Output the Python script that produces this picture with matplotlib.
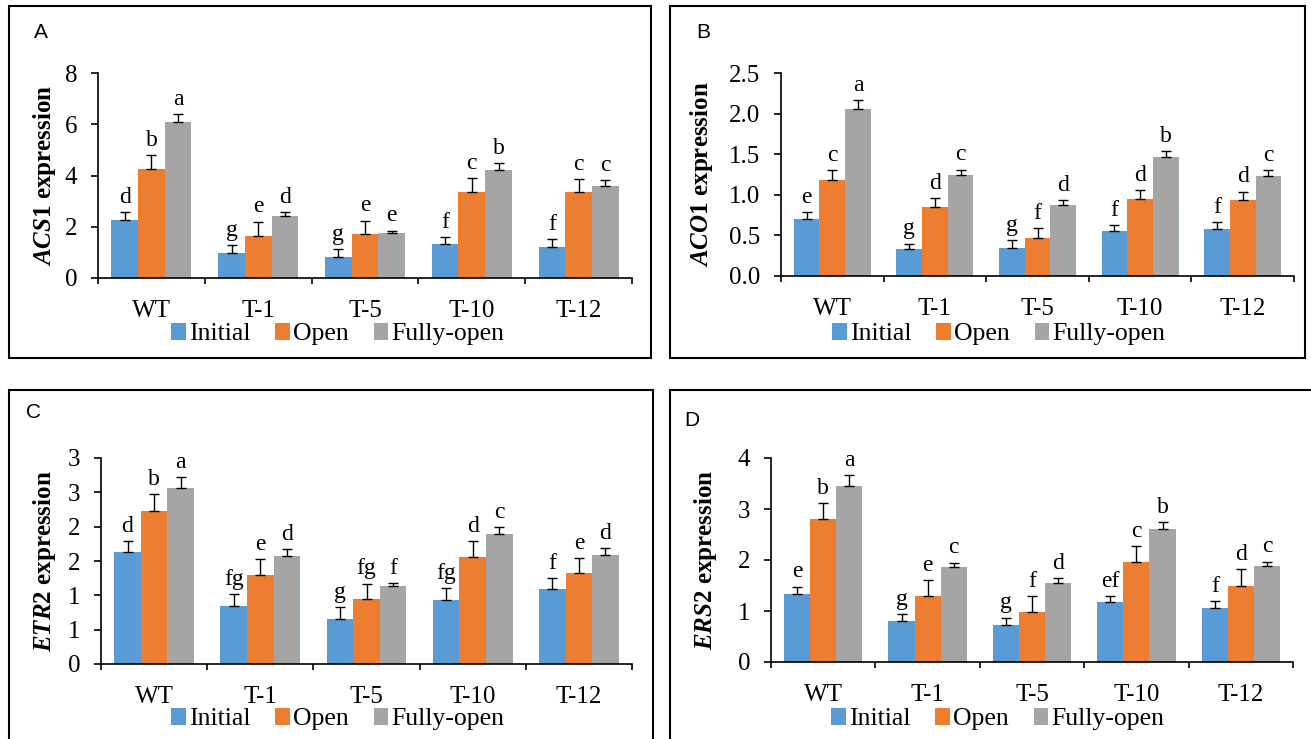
import numpy as np
import matplotlib.pyplot as plt
from matplotlib.patches import Rectangle, Patch
from matplotlib.ticker import FuncFormatter, MultipleLocator

W, H = 1311, 739

lines = ["WT", "T-1", "T-5", "T-10", "T-12"]
stages = ["Initial", "Open", "Fully-open"]
colors = ["#5B9BD5", "#ED7D31", "#A5A5A5"]

# ── ACS1 (panel A) ──────────────────────
acs1_initial = [2.27, 0.97, 0.82, 1.34, 1.22]
acs1_open = [4.25, 1.62, 1.71, 3.35, 3.35]
acs1_full = [6.10, 2.43, 1.75, 4.22, 3.59]
acs1_initial_err = [0.30, 0.30, 0.31, 0.26, 0.31]
acs1_open_err = [0.55, 0.58, 0.53, 0.56, 0.52]
acs1_full_err = [0.30, 0.14, 0.10, 0.25, 0.24]
acs1_letters = [["d", "g", "g", "f", "f"],
                ["b", "e", "e", "c", "c"],
                ["a", "d", "e", "b", "c"]]

# ── ACO1 (panel B) ──────────────────────
aco1_initial = [0.70, 0.33, 0.34, 0.555, 0.575]
aco1_open = [1.18, 0.85, 0.47, 0.95, 0.93]
aco1_full = [2.06, 1.24, 0.88, 1.46, 1.23]
aco1_initial_err = [0.09, 0.07, 0.10, 0.075, 0.085]
aco1_open_err = [0.12, 0.11, 0.12, 0.11, 0.11]
aco1_full_err = [0.11, 0.07, 0.05, 0.08, 0.07]
aco1_letters = [["e", "g", "g", "f", "f"],
                ["c", "d", "f", "d", "d"],
                ["a", "c", "d", "b", "c"]]

# ── ETR2 (panel C) ──────────────────────
etr2_initial = [1.63, 0.85, 0.66, 0.93, 1.09]
etr2_open = [2.23, 1.29, 0.95, 1.56, 1.32]
etr2_full = [2.57, 1.58, 1.13, 1.89, 1.59]
etr2_initial_err = [0.16, 0.17, 0.17, 0.18, 0.16]
etr2_open_err = [0.24, 0.24, 0.22, 0.23, 0.22]
etr2_full_err = [0.15, 0.09, 0.05, 0.11, 0.10]
etr2_letters = [["d", "fg", "g", "fg", "f"],
                ["b", "e", "fg", "d", "e"],
                ["a", "d", "f", "c", "d"]]

# ── ERS2 (panel D) ──────────────────────
ers2_initial = [1.34, 0.81, 0.73, 1.18, 1.06]
ers2_open = [2.80, 1.29, 0.98, 1.96, 1.50]
ers2_full = [3.46, 1.86, 1.54, 2.61, 1.88]
ers2_initial_err = [0.14, 0.13, 0.14, 0.12, 0.13]
ers2_open_err = [0.31, 0.32, 0.32, 0.32, 0.32]
ers2_full_err = [0.20, 0.09, 0.10, 0.14, 0.09]
ers2_letters = [["e", "g", "g", "ef", "f"],
                ["b", "e", "f", "c", "d"],
                ["a", "c", "d", "b", "c"]]

plt.rcParams["font.family"] = "Liberation Serif"
plt.rcParams["mathtext.fontset"] = "custom"
plt.rcParams["mathtext.it"] = "Liberation Serif:italic:bold"
plt.rcParams["mathtext.rm"] = "Liberation Serif:bold"


def px_axes(fig, left, top, right, bottom):
    return fig.add_axes([left / W, 1 - bottom / H, (right - left) / W, (bottom - top) / H])


def draw_panel(fig, box, axbox, tag, tag_xy, gene, means, errs, letters,
               ymax, ystep, fmt, ylab_x, leg_xy):
    # panel frame
    x0, y0, x1, y1 = box
    fig.patches.append(Rectangle((x0 / W, 1 - y1 / H), (x1 - x0) / W, (y1 - y0) / H,
                                 transform=fig.transFigure, fill=False,
                                 edgecolor="black", lw=1.5))
    fig.text(tag_xy[0] / W, 1 - tag_xy[1] / H, tag, family="Liberation Sans",
             fontsize=15, ha="left", va="center")

    ax = px_axes(fig, *axbox)
    x = np.arange(len(lines))
    bw = 0.25
    for i, (m, e, col) in enumerate(zip(means, errs, colors)):
        xs = x + (i - 1) * bw
        ax.bar(xs, m, width=bw, color=col, edgecolor="none", zorder=2)
        ax.errorbar(xs, m, yerr=[np.zeros(len(m)), e], fmt="none", ecolor="black",
                    elinewidth=1.0, capsize=3.5, capthick=1.0, zorder=3)
        for xi, mi, ei, lt in zip(xs, m, e, letters[i]):
            ax.annotate(lt, (xi, mi + ei), xytext=(0, 3), textcoords="offset points",
                        ha="center", va="bottom", fontsize=17, annotation_clip=False)

    ax.set_xlim(-0.5, len(lines) - 0.5)
    ax.set_ylim(0, ymax)
    ax.yaxis.set_major_locator(MultipleLocator(ystep))
    ax.yaxis.set_major_formatter(FuncFormatter(fmt))
    ax.set_xticks(x)
    ax.set_xticklabels(lines)
    ax.set_xticks(np.arange(-0.5, len(lines)), minor=True)
    ax.tick_params(axis="x", which="major", length=0, pad=16, labelsize=18)
    ax.tick_params(axis="x", which="minor", length=4.5, width=1.2, direction="out")
    ax.tick_params(axis="y", length=5, width=1.2, direction="out", pad=10, labelsize=18)
    for s in ["top", "right"]:
        ax.spines[s].set_visible(False)
    for s in ["left", "bottom"]:
        ax.spines[s].set_linewidth(1.2)
    ax.set_ylabel(r"$\mathit{" + gene + "}$ expression", fontsize=18, fontweight="bold")
    ax.yaxis.set_label_coords(ylab_x, 0.5)
    ax.yaxis.label.set_verticalalignment("center")

    handles = [Patch(facecolor=c, edgecolor="none") for c in colors]
    fig.legend(handles, stages, loc="center", bbox_to_anchor=(leg_xy[0] / W, 1 - leg_xy[1] / H),
               ncol=3, frameon=False, fontsize=18.5, handlelength=0.55, handleheight=0.7,
               handletextpad=0.15, columnspacing=0.95, borderpad=0)
    return ax


fig = plt.figure(figsize=(W / 100, H / 100), dpi=100)

draw_panel(fig, (9, 6, 651, 358), (98, 73, 632, 278), "A", (34, 32), "ACS1",
           [acs1_initial, acs1_open, acs1_full],
           [acs1_initial_err, acs1_open_err, acs1_full_err], acs1_letters,
           8, 2, lambda v, p: f"{v:.0f}", -0.101, (338, 334))

draw_panel(fig, (670, 6, 1305, 358), (781, 73, 1294, 276), "B", (696, 32), "ACO1",
           [aco1_initial, aco1_open, aco1_full],
           [aco1_initial_err, aco1_open_err, aco1_full_err], aco1_letters,
           2.5, 0.5, lambda v, p: f"{v:.1f}", -0.154, (999, 334))

draw_panel(fig, (9, 390, 653, 760), (101, 458, 632, 664), "C", (26, 412), "ETR2",
           [etr2_initial, etr2_open, etr2_full],
           [etr2_initial_err, etr2_open_err, etr2_full_err], etr2_letters,
           3.0, 0.5, lambda v, p: f"{int(np.floor(v + 0.5))}", -0.107, (338, 719))

draw_panel(fig, (670, 390, 1330, 760), (771, 458, 1293, 662), "D", (684, 421), "ERS2",
           [ers2_initial, ers2_open, ers2_full],
           [ers2_initial_err, ers2_open_err, ers2_full_err], ers2_letters,
           4, 1, lambda v, p: f"{v:.0f}", -0.125, (998, 719))

fig.savefig("out.png", dpi=100)
